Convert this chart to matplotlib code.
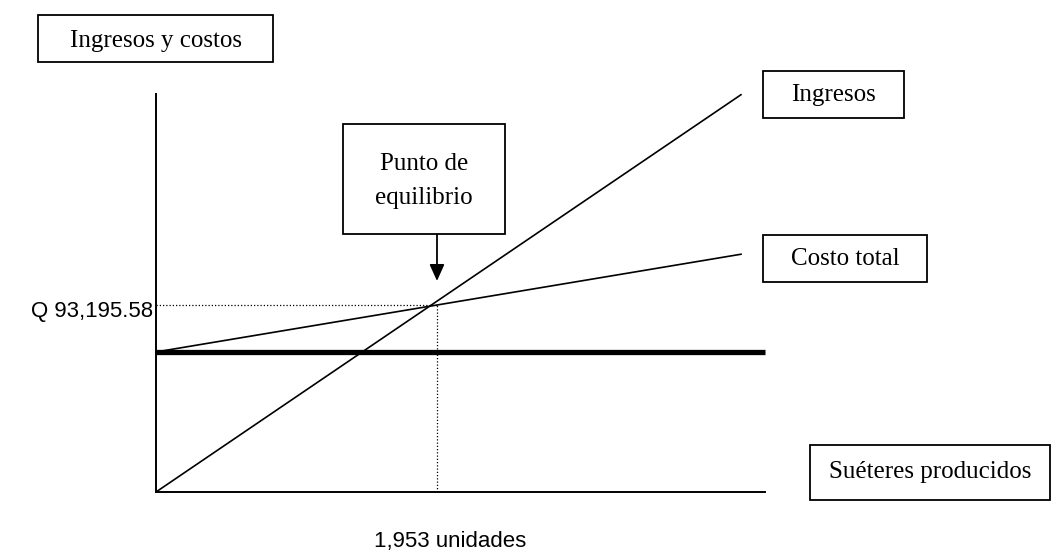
import matplotlib
matplotlib.use("Agg")
import matplotlib.pyplot as plt
from matplotlib.patches import Rectangle

# ---- data ----
unidades = [0, 4066]                 # sweaters produced, line end points
ingresos = [0, 198000]               # revenue (Q)
costo_total = [69800, 118500]        # total cost (Q)
costo_fijo = 69800                   # fixed cost (Q)
equilibrio_unidades = 1953
equilibrio_valor = 93195.58
x_max = 4233
y_max = 198360

etiqueta_y = "Q 93,195.58"
etiqueta_x = "1,953 unidades"

W, H = 1056, 555
fig = plt.figure(figsize=(W / 100, H / 100), dpi=100)
fig.patch.set_facecolor("white")

def fx(x):
    return x / W

def fy(y):
    return 1 - y / H

ax = fig.add_axes([fx(156), fy(492), 609 / W, 398 / H])
ax.set_xlim(0, x_max)
ax.set_ylim(0, y_max)
for s in ("top", "right"):
    ax.spines[s].set_visible(False)
for s in ("left", "bottom"):
    ax.spines[s].set_linewidth(1.4)
ax.set_xticks([])
ax.set_yticks([])
ax.patch.set_alpha(0)

ax.plot(unidades, ingresos, color="black", lw=1.2, clip_on=False)
ax.plot(unidades, costo_total, color="black", lw=1.2, clip_on=False)
ax.axhline(costo_fijo, color="black", lw=3.8, solid_capstyle="butt", clip_on=False)
ax.plot([0, equilibrio_unidades], [equilibrio_valor, equilibrio_valor],
        color="black", lw=0.9, dashes=(1, 1.6), clip_on=False)
ax.plot([equilibrio_unidades, equilibrio_unidades], [0, equilibrio_valor],
        color="black", lw=0.9, dashes=(1, 1.6), clip_on=False)

# arrow from the "Punto de equilibrio" box down to the break-even point
ax.annotate("", xy=(equilibrio_unidades, equilibrio_valor), xycoords="data",
            xytext=(437, H - 234), textcoords="figure pixels",
            arrowprops=dict(arrowstyle="-|>,head_length=1.0,head_width=0.45",
                            color="black", lw=1.3, shrinkA=0, shrinkB=17.3),
            annotation_clip=False)

serif = ["Liberation Serif", "DejaVu Serif"]
sans = ["Liberation Sans", "DejaVu Sans"]

def box(x0, y0, x1, y1):
    r = Rectangle((fx(x0), fy(y1)), (x1 - x0) / W, (y1 - y0) / H,
                  transform=fig.transFigure, fill=True, facecolor="white",
                  edgecolor="black", lw=1.3, zorder=3)
    fig.add_artist(r)
    return r

box(38, 15, 273, 62)
fig.text(fx(155.5), fy(41), "Ingresos y costos", ha="center", va="center",
         family=serif, fontsize=18, zorder=4)

box(763, 71, 904, 118)
fig.text(fx(833.5), fy(95), "Ingresos", ha="center", va="center",
         family=serif, fontsize=18, zorder=4)

box(763, 235, 927, 282)
fig.text(fx(845), fy(259), "Costo total", ha="center", va="center",
         family=serif, fontsize=18, zorder=4)

box(343, 124, 505, 234)
fig.text(fx(424), fy(164), "Punto de", ha="center", va="center",
         family=serif, fontsize=18, zorder=4)
fig.text(fx(424), fy(198), "equilibrio", ha="center", va="center",
         family=serif, fontsize=18, zorder=4)

box(810, 445, 1050, 500)
fig.text(fx(930), fy(472), "Suéteres producidos", ha="center", va="center",
         family=serif, fontsize=18, zorder=4)

fig.text(fx(153), fy(311), etiqueta_y, ha="right", va="center",
         family=sans, fontsize=16)
fig.text(fx(450), fy(542), etiqueta_x, ha="center", va="center",
         family=sans, fontsize=16)

fig.savefig("out.png", dpi=100, facecolor="white")
